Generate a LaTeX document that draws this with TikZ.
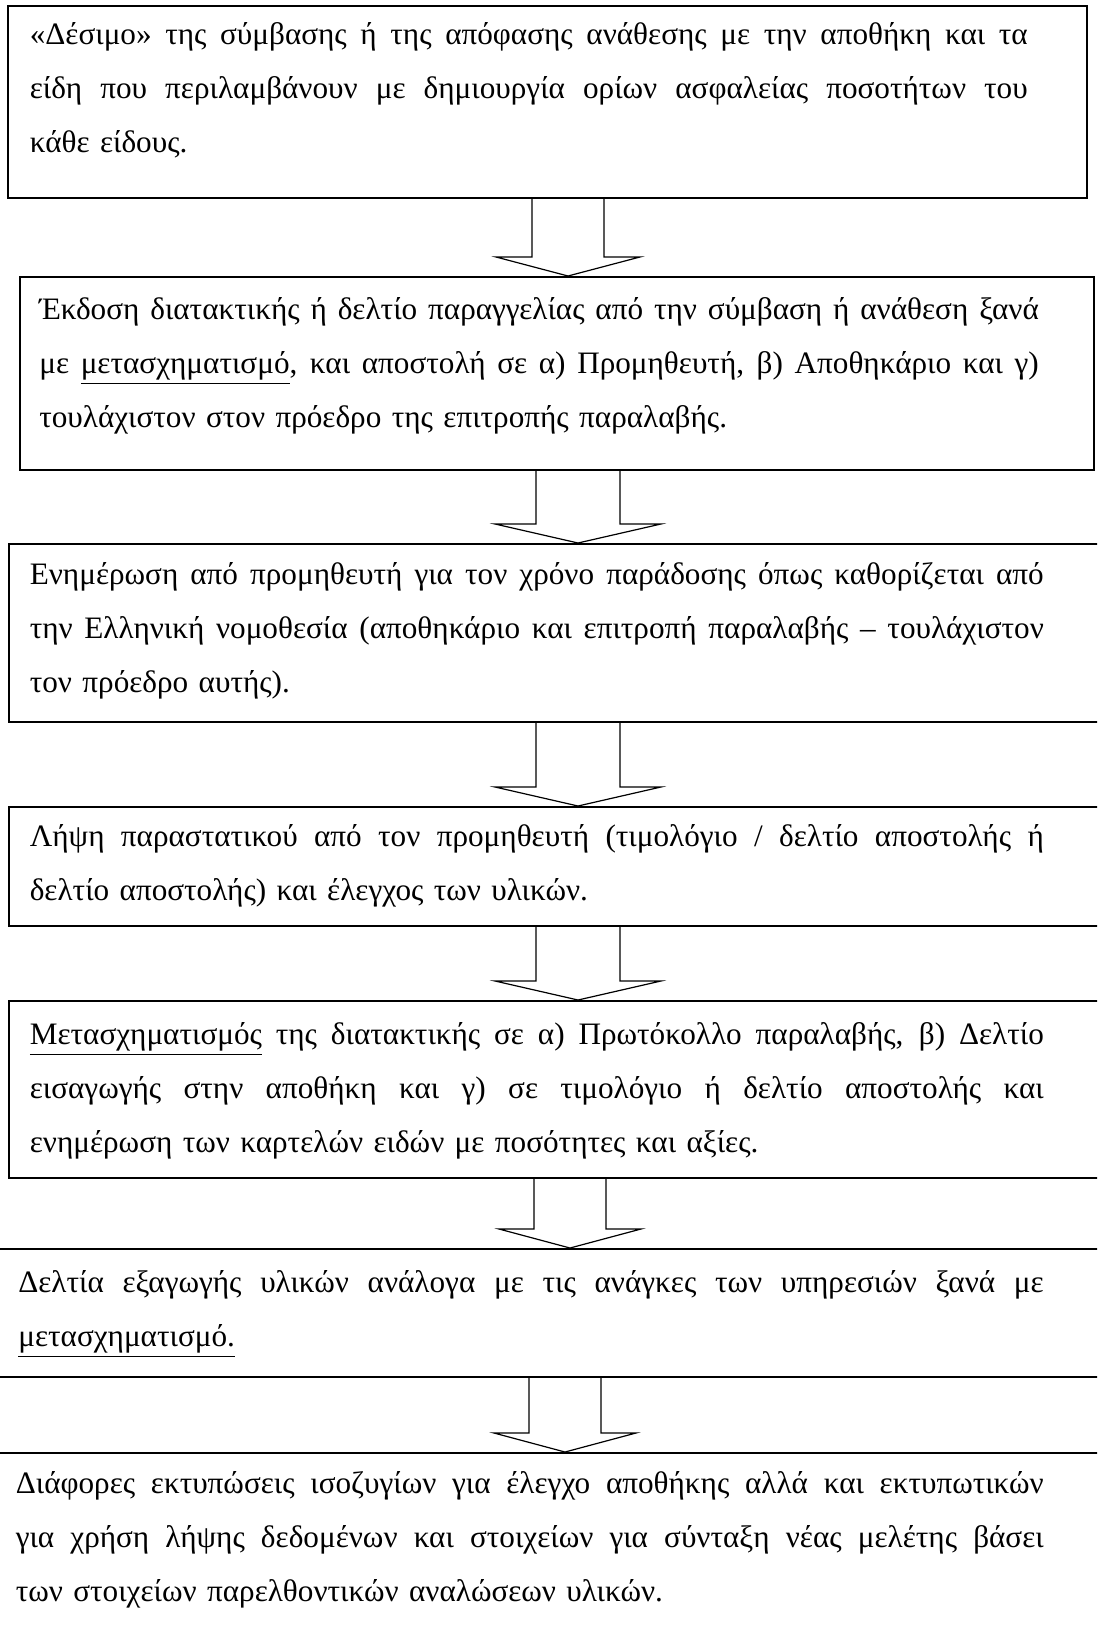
\documentclass[tikz,border=0pt]{standalone}
\usepackage{fontspec}
\setmainfont{Liberation Serif}
\usetikzlibrary{calc}
\newlength{\pxu}\setlength{\pxu}{0.5pt}
\newlength{\jwidth}
% one justified line of a box
\newcommand{\jline}[1]{{\spaceskip=\fontdimen2\font plus 10\fontdimen2\font minus \fontdimen4\font
  \makebox[\jwidth][s]{#1}}}
% box height, left pad, text width, first baseline, lines (all in px)
\newcommand{\boxtext}[5]{%
\setlength{\jwidth}{#3\pxu}%
\begin{minipage}[t][#1\pxu][t]{\linewidth}%
\hspace*{#2\pxu}\begin{minipage}[t]{#3\pxu}%
\rule{0pt}{#4\pxu}#5%
\end{minipage}\end{minipage}}
\begin{document}
\begin{tikzpicture}[x=0.5pt, y=-0.5pt, line join=miter,
  box/.style={draw, line width=0.8pt, inner sep=0pt, anchor=north west,
    font=\fontsize{15.6pt}{27pt}\selectfont},
  blockarrow/.style 2 args={draw, line width=0.6pt, to path={
    ($(\tikztostart)+(-#1,0)$) -- ($(\tikztotarget)+(-#1,-19)$)
    -- ($(\tikztotarget)+(-#2,-19)$) -- (\tikztotarget)
    -- ($(\tikztotarget)+(#2,-19)$) -- ($(\tikztotarget)+(#1,-19)$)
    -- ($(\tikztostart)+(#1,0)$)}}]
\useasboundingbox (0,0) rectangle (1097,1632);
\clip (0,0) rectangle (1097,1632);

% boxes
\node[box, text width=539.5pt] (b1) at (7,5) {\boxtext{192}{22}{998}{39}{%
\jline{«Δέσιμο» της σύμβασης ή της απόφασης ανάθεσης με την αποθήκη και τα}\\
\jline{είδη που περιλαμβάνουν με δημιουργία ορίων ασφαλείας ποσοτήτων του}\\
κάθε είδους.}};
\node[box, text width=537pt] (b2) at (19,276) {\boxtext{193}{19.5}{999.5}{43}{%
\jline{Έκδοση διατακτικής ή δελτίο παραγγελίας από την σύμβαση ή ανάθεση ξανά}\\
\jline{με \underline{μετασχηματισμό}, και αποστολή σε α) Προμηθευτή, β) Αποθηκάριο και γ)}\\
τουλάχιστον στον πρόεδρο της επιτροπής παραλαβής.}};
\node[box, text width=551pt] (b3) at (8,543) {\boxtext{178}{21}{1014}{41}{%
\jline{Ενημέρωση από προμηθευτή για τον χρόνο παράδοσης όπως καθορίζεται από}\\
\jline{την Ελληνική νομοθεσία (αποθηκάριο και επιτροπή παραλαβής – τουλάχιστον}\\
τον πρόεδρο αυτής).}};
\node[box, text width=551pt] (b4) at (8,806) {\boxtext{119}{21}{1014}{40}{%
\jline{Λήψη παραστατικού από τον προμηθευτή (τιμολόγιο / δελτίο αποστολής ή}\\
δελτίο αποστολής) και έλεγχος των υλικών.}};
\node[box, text width=551pt] (b5) at (8,1000) {\boxtext{177}{21}{1014}{44}{%
\jline{\underline{Μετασχηματισμός} της διατακτικής σε α) Πρωτόκολλο παραλαβής, β) Δελτίο}\\
\jline{εισαγωγής στην αποθήκη και γ) σε τιμολόγιο ή δελτίο αποστολής και}\\
ενημέρωση των καρτελών ειδών με ποσότητες και αξίες.}};
\node[box, text width=565pt] (b6) at (-20,1248) {\boxtext{128}{37.5}{1025.5}{44}{%
\jline{Δελτία εξαγωγής υλικών ανάλογα με τις ανάγκες των υπηρεσιών ξανά με}\\
\underline{μετασχηματισμό.}}};
\node[box, text width=565pt] (b7) at (-20,1452) {\boxtext{210}{35}{1028}{41}{%
\jline{Διάφορες εκτυπώσεις ισοζυγίων για έλεγχο αποθήκης αλλά και εκτυπωτικών}\\
\jline{για χρήση λήψης δεδομένων και στοιχείων για σύνταξη νέας μελέτης βάσει}\\
των στοιχείων παρελθοντικών αναλώσεων υλικών.}};

% arrows
\coordinate (a1s) at (568,0 |- b1.south);
\coordinate (a1e) at (568,0 |- b2.north);
\coordinate (a2s) at (578,0 |- b2.south);
\coordinate (a2e) at (578,0 |- b3.north);
\coordinate (a3s) at (578,0 |- b3.south);
\coordinate (a3e) at (578,0 |- b4.north);
\coordinate (a4s) at (578,0 |- b4.south);
\coordinate (a4e) at (578,0 |- b5.north);
\coordinate (a5s) at (570,0 |- b5.south);
\coordinate (a5e) at (570,0 |- b6.north);
\coordinate (a6s) at (565,0 |- b6.south);
\coordinate (a6e) at (565,0 |- b7.north);
\draw[blockarrow={36}{72}] (a1s) to (a1e);
\draw[blockarrow={42}{83}] (a2s) to (a2e);
\draw[blockarrow={42}{83}] (a3s) to (a3e);
\draw[blockarrow={42}{83}] (a4s) to (a4e);
\draw[blockarrow={36}{71}] (a5s) to (a5e);
\draw[blockarrow={36}{71}] (a6s) to (a6e);
\end{tikzpicture}
\end{document}
